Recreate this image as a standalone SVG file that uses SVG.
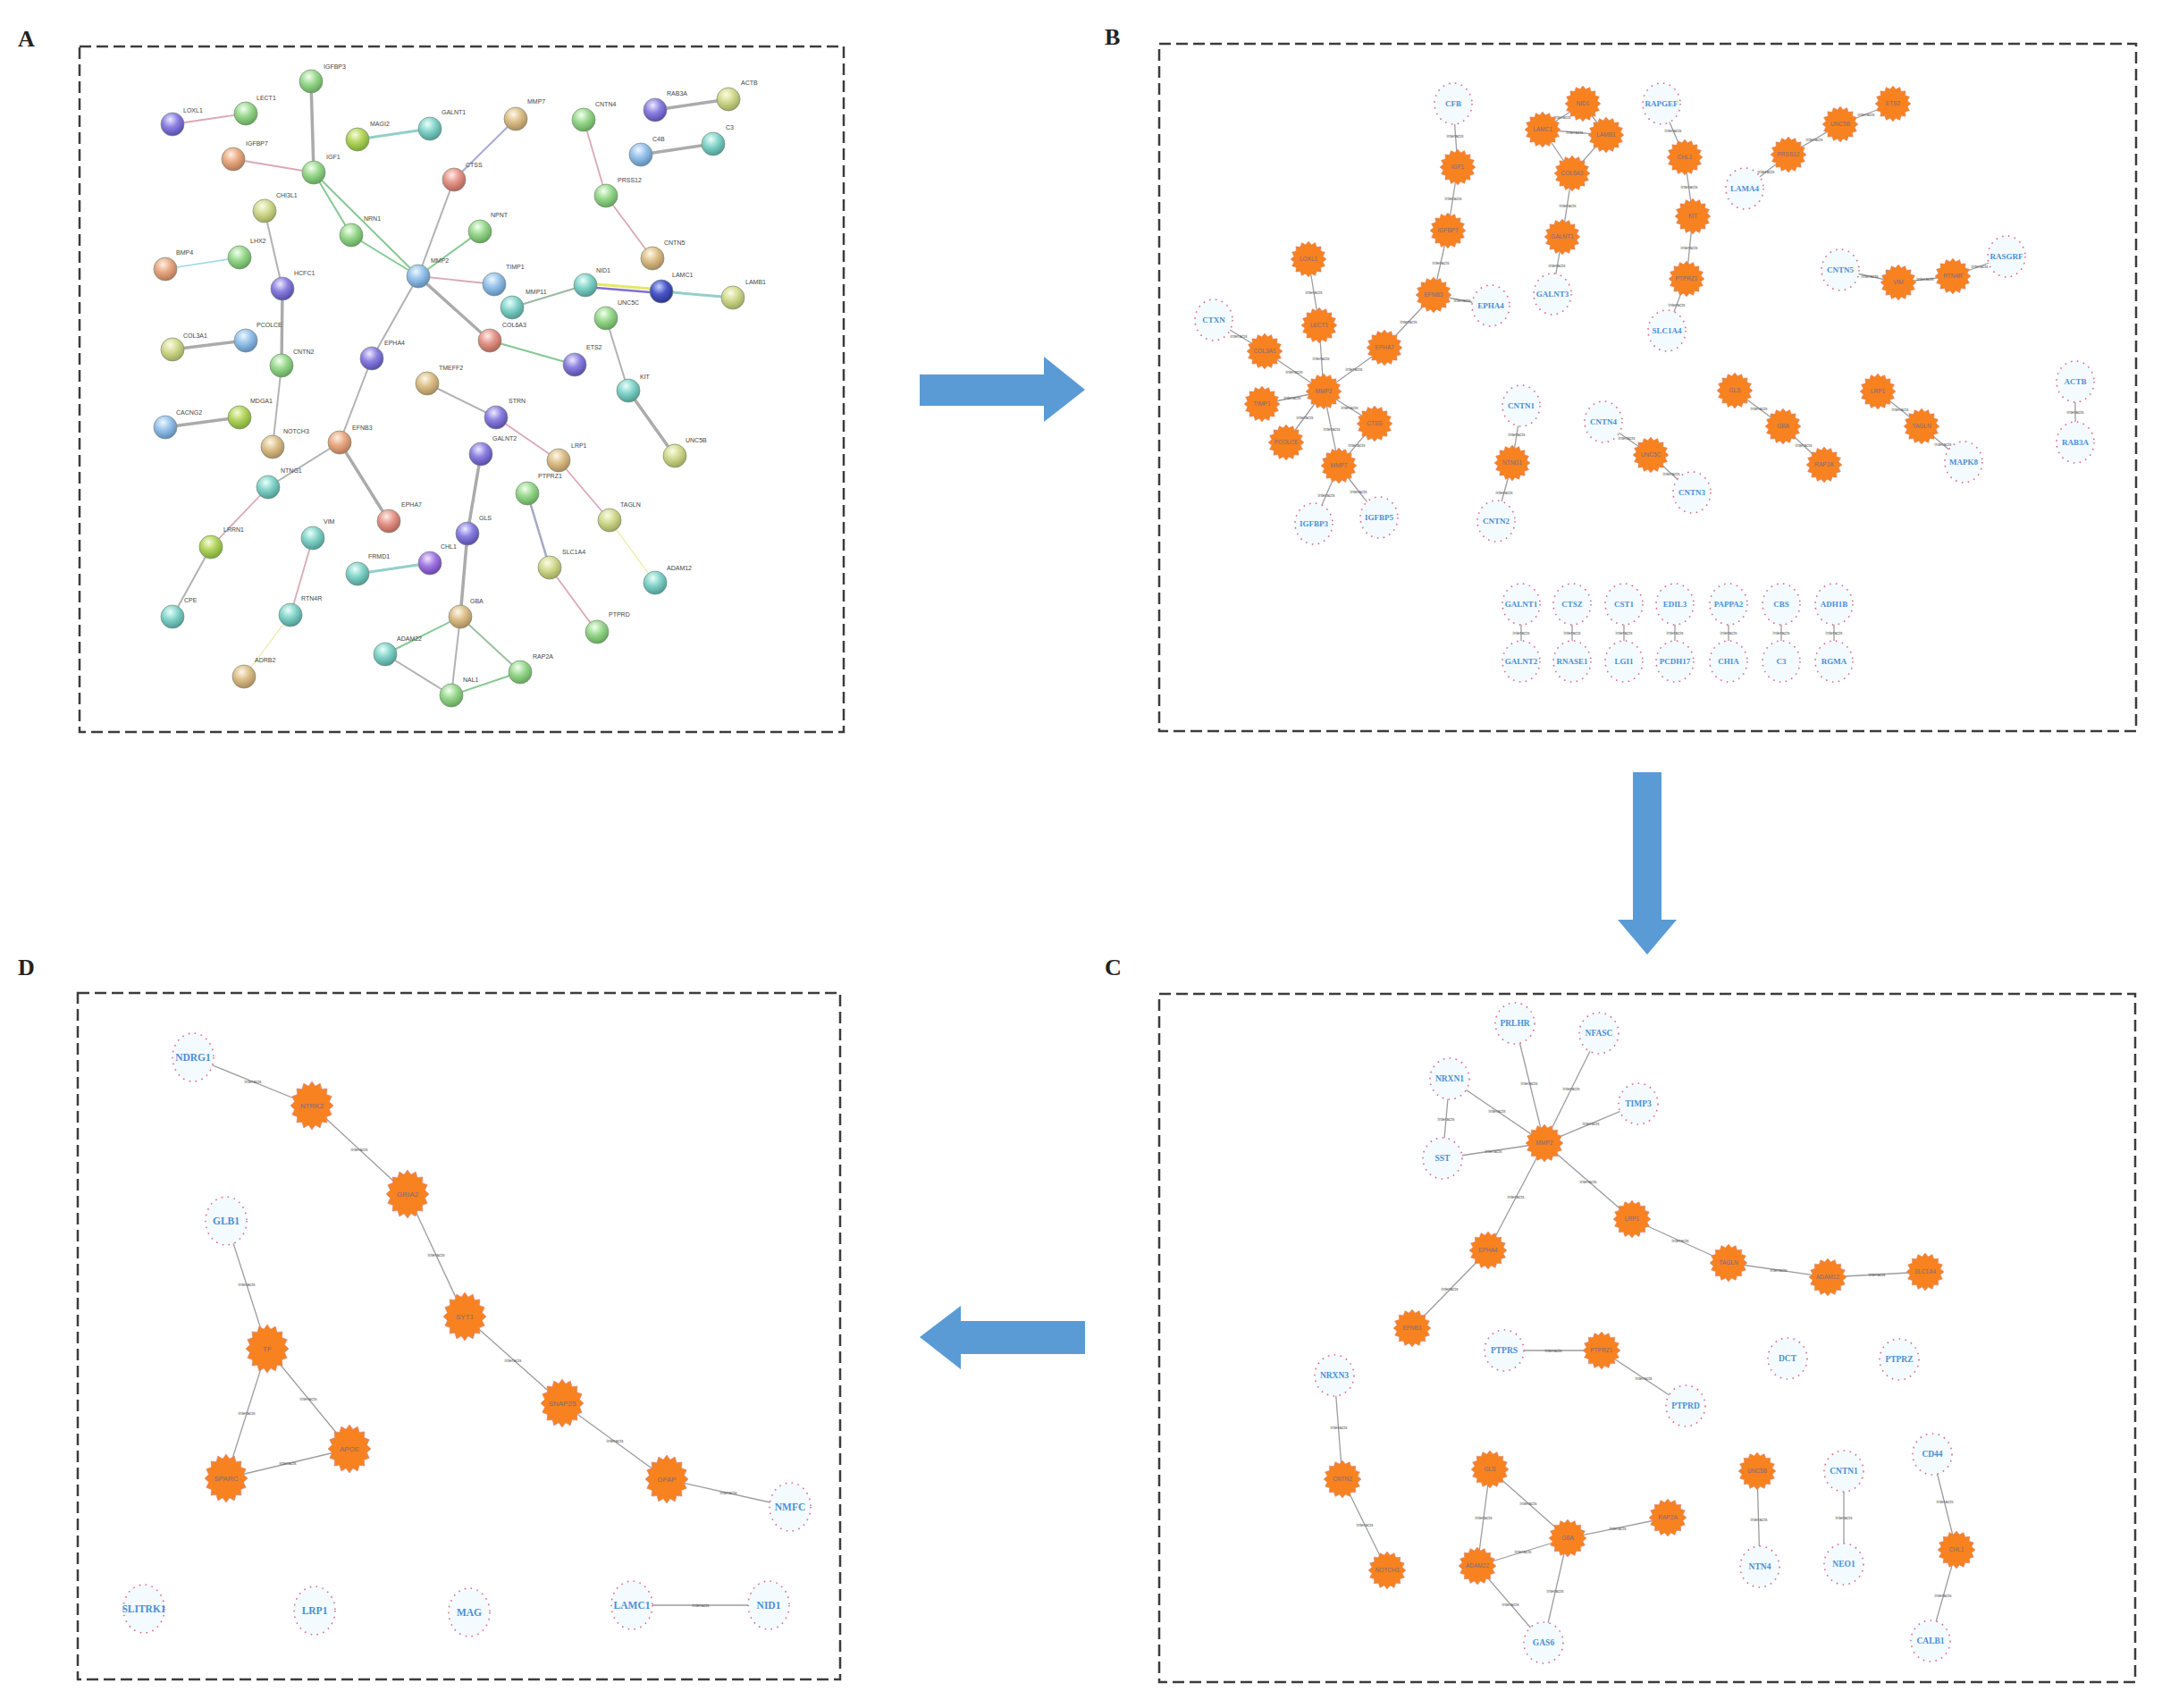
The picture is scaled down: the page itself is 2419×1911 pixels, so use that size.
<svg xmlns="http://www.w3.org/2000/svg" xmlns:xlink="http://www.w3.org/1999/xlink" width="2419" height="1911" viewBox="0 0 2419 1911">
<style>
.frame{fill:none;stroke:#3c3c3c;stroke-width:2.5;stroke-dasharray:13 6}
.pl{font-family:"Liberation Serif",serif;font-weight:bold;font-size:26px;fill:#222}
.sl{font-family:"Liberation Sans",Arial,sans-serif;font-size:7px;fill:#444}
.sn{stroke:#7a8a7a;stroke-width:0.7}
.g3{stroke:#ababab;stroke-width:3.5;stroke-linecap:round}
.g2{stroke:#b2b2b2;stroke-width:2;stroke-linecap:round}
.pk{stroke:#d9a9b6;stroke-width:1.8}
.gr{stroke:#86c892;stroke-width:2}
.tl{stroke:#92d0c8;stroke-width:3}
.yl{stroke:#e6ea9c;stroke-width:1.2}
.cy{stroke:#a2d8ea;stroke-width:1.6}
.e{stroke:#9c9c9c;stroke-width:1.3;fill:none}
.el{font-family:"Liberation Sans",Arial,sans-serif;font-size:5px;fill:#555;text-anchor:middle}
.dn{fill:#f3fbff;stroke:#e06a88;stroke-width:1.6;stroke-dasharray:1.6 5.4}
.dt{font-family:"Liberation Serif",serif;font-weight:bold;font-size:9px;fill:#4b8fd4;text-anchor:middle}
.dtc{font-family:"Liberation Serif",serif;font-weight:bold;font-size:9.5px;fill:#4b8fd4;text-anchor:middle}
.dtd{font-family:"Liberation Serif",serif;font-weight:bold;font-size:11.5px;fill:#4b8fd4;text-anchor:middle}
.on{fill:#f7821f;stroke:#d08a98;stroke-width:0.5}
.ot{font-family:"Liberation Sans",Arial,sans-serif;font-size:6.5px;fill:#7a6b85;text-anchor:middle}
.otd{font-family:"Liberation Sans",Arial,sans-serif;font-size:8px;fill:#7a6b85;text-anchor:middle}
.arr{fill:#5b9bd5}
</style>
<defs>
<path id="st" d="M20,0 L16.18,3.22 L18.48,7.65 L13.72,9.17 L14.14,14.14 L9.17,13.72 L7.65,18.48 L3.22,16.18 L0,20 L-3.22,16.18 L-7.65,18.48 L-9.17,13.72 L-14.14,14.14 L-13.72,9.17 L-18.48,7.65 L-16.18,3.22 L-20,0 L-16.18,-3.22 L-18.48,-7.65 L-13.72,-9.17 L-14.14,-14.14 L-9.17,-13.72 L-7.65,-18.48 L-3.22,-16.18 L0,-20 L3.22,-16.18 L7.65,-18.48 L9.17,-13.72 L14.14,-14.14 L13.72,-9.17 L18.48,-7.65 L16.18,-3.22 Z"/>
<radialGradient id="gG" cx="0.4" cy="0.3" r="0.75"><stop offset="0" stop-color="#f4fff0"/><stop offset="0.45" stop-color="#9ad98f"/><stop offset="1" stop-color="#5a9e52"/></radialGradient>
<radialGradient id="gP" cx="0.4" cy="0.3" r="0.75"><stop offset="0" stop-color="#eeeaff"/><stop offset="0.45" stop-color="#8c80e0"/><stop offset="1" stop-color="#4f45a4"/></radialGradient>
<radialGradient id="gO" cx="0.4" cy="0.3" r="0.75"><stop offset="0" stop-color="#fff0e4"/><stop offset="0.45" stop-color="#e8aa84"/><stop offset="1" stop-color="#b0704e"/></radialGradient>
<radialGradient id="gY" cx="0.4" cy="0.3" r="0.75"><stop offset="0" stop-color="#fbfce6"/><stop offset="0.45" stop-color="#d2da90"/><stop offset="1" stop-color="#98a054"/></radialGradient>
<radialGradient id="gT" cx="0.4" cy="0.3" r="0.75"><stop offset="0" stop-color="#eafffb"/><stop offset="0.45" stop-color="#84d4ca"/><stop offset="1" stop-color="#45948e"/></radialGradient>
<radialGradient id="gB" cx="0.4" cy="0.3" r="0.75"><stop offset="0" stop-color="#eef7ff"/><stop offset="0.45" stop-color="#96c2ea"/><stop offset="1" stop-color="#5684b2"/></radialGradient>
<radialGradient id="gD" cx="0.4" cy="0.3" r="0.75"><stop offset="0" stop-color="#c8ceff"/><stop offset="0.45" stop-color="#4a58c8"/><stop offset="1" stop-color="#262e84"/></radialGradient>
<radialGradient id="gK" cx="0.4" cy="0.3" r="0.75"><stop offset="0" stop-color="#fff8ea"/><stop offset="0.45" stop-color="#dcc08a"/><stop offset="1" stop-color="#a48454"/></radialGradient>
<radialGradient id="gV" cx="0.4" cy="0.3" r="0.75"><stop offset="0" stop-color="#f2e6ff"/><stop offset="0.45" stop-color="#a27ae4"/><stop offset="1" stop-color="#6438a4"/></radialGradient>
<radialGradient id="gR" cx="0.4" cy="0.3" r="0.75"><stop offset="0" stop-color="#ffece8"/><stop offset="0.45" stop-color="#e4968a"/><stop offset="1" stop-color="#aa5c50"/></radialGradient>
<radialGradient id="gL" cx="0.4" cy="0.3" r="0.75"><stop offset="0" stop-color="#f6fcdc"/><stop offset="0.45" stop-color="#b4d45e"/><stop offset="1" stop-color="#74a030"/></radialGradient>
</defs>
<rect width="2419" height="1911" fill="#ffffff"/>

<g id="panel-frames">
<rect class="frame" x="89" y="52" width="855" height="767"/>
<rect class="frame" x="1297" y="49" width="1093" height="769"/>
<rect class="frame" x="1297" y="1112" width="1092" height="770"/>
<rect class="frame" x="87" y="1111" width="853" height="768"/>
<text class="pl" x="20" y="52">A</text>
<text class="pl" x="1236" y="50">B</text>
<text class="pl" x="1236" y="1091">C</text>
<text class="pl" x="20" y="1091">D</text>
</g>

<g id="flow-arrows">
<polygon class="arr" points="1029,419 1168,419 1168,399 1214,436 1168,472 1168,454 1029,454"/>
<polygon class="arr" points="1827,864 1859,864 1859,1029 1876,1029 1843,1068 1810,1029 1827,1029"/>
<polygon class="arr" points="1214,1478 1075,1478 1075,1461 1029,1496 1075,1532 1075,1515 1214,1515"/>
</g>

<g id="connectors">
<!-- Panel A -->
<line class="pk" x1="193" y1="139" x2="275" y2="127" stroke-width="2.6"/>
<line class="g3" x1="348" y1="91" x2="351" y2="193"/>
<line class="pk" x1="261" y1="178" x2="351" y2="193"/>
<line class="tl" x1="400" y1="156" x2="481" y2="144"/>
<line class="gr" x1="351" y1="193" x2="468" y2="309" stroke-width="3"/>
<line class="gr" x1="351" y1="193" x2="393" y2="263"/>
<line class="gr" x1="393" y1="263" x2="468" y2="309"/>
<line class="g2" x1="468" y1="309" x2="508" y2="201" stroke-width="2.6"/>
<line x1="508" y1="201" x2="577" y2="133" stroke="#aaaad2" stroke-width="2"/>
<line class="gr" x1="468" y1="309" x2="537" y2="259" stroke-width="1.2"/>
<line class="pk" x1="468" y1="309" x2="553" y2="318"/>
<line class="g3" x1="468" y1="309" x2="548" y2="381"/>
<line class="g2" x1="468" y1="309" x2="416" y2="401" stroke-width="2.6"/>
<line class="cy" x1="185" y1="301" x2="268" y2="288"/>
<line class="g2" x1="296" y1="236" x2="316" y2="323" stroke-width="1.5"/>
<line class="g3" x1="316" y1="323" x2="315" y2="409"/>
<line class="g3" x1="193" y1="391" x2="275" y2="381"/>
<line class="g2" x1="315" y1="409" x2="305" y2="500"/>
<line class="g3" x1="185" y1="478" x2="268" y2="467" stroke-width="4.5"/>
<line class="g2" x1="416" y1="401" x2="380" y2="495"/>
<line class="g2" x1="380" y1="495" x2="300" y2="545" stroke-width="2.5"/>
<line class="g3" x1="380" y1="495" x2="435" y2="583"/>
<line class="pk" x1="300" y1="545" x2="236" y2="612"/>
<line class="g2" x1="236" y1="612" x2="193" y2="690"/>
<line class="pk" x1="350" y1="602" x2="325" y2="688" stroke-width="2.4"/>
<line class="yl" x1="325" y1="688" x2="273" y2="757"/>
<line class="tl" x1="400" y1="642" x2="481" y2="630" stroke-width="2.5"/>
<line class="g2" x1="478" y1="429" x2="555" y2="467"/>
<line class="pk" x1="555" y1="467" x2="625" y2="515" stroke="#c9a2a2"/>
<line class="pk" x1="625" y1="515" x2="682" y2="582"/>
<line class="yl" x1="682" y1="582" x2="733" y2="652"/>
<line x1="590" y1="552" x2="615" y2="635" stroke="#a4aac2" stroke-width="2.6"/>
<line class="pk" x1="615" y1="635" x2="668" y2="707"/>
<line class="g3" x1="538" y1="508" x2="523" y2="597"/>
<line class="g3" x1="523" y1="597" x2="515" y2="690"/>
<line x1="515" y1="690" x2="582" y2="752" stroke="#9cc0a4" stroke-width="2"/>
<line class="gr" x1="515" y1="690" x2="431" y2="732" stroke-width="1.5"/>
<line class="g2" x1="515" y1="690" x2="505" y2="778" stroke-width="1.6"/>
<line class="g2" x1="431" y1="732" x2="505" y2="778" stroke-width="1.6"/>
<line class="gr" x1="505" y1="778" x2="582" y2="752" stroke-width="1.5"/>
<line class="pk" x1="653" y1="134" x2="678" y2="219"/>
<line class="pk" x1="678" y1="219" x2="730" y2="289"/>
<line class="g3" x1="733" y1="123" x2="815" y2="111"/>
<line class="g3" x1="717" y1="173" x2="798" y2="161"/>
<line x1="573" y1="344" x2="655" y2="319" stroke="#9cb8a2" stroke-width="2"/>
<line x1="655" y1="317" x2="740" y2="324" stroke="#e6e66a" stroke-width="3"/>
<line x1="655" y1="321" x2="740" y2="328" stroke="#7f70d2" stroke-width="2.5"/>
<line class="tl" x1="740" y1="326" x2="820" y2="333"/>
<line class="gr" x1="548" y1="381" x2="643" y2="408" stroke-width="1.2"/>
<line class="g2" x1="678" y1="356" x2="703" y2="437"/>
<line class="g3" x1="703" y1="437" x2="755" y2="510"/>

<!-- Panel B -->
<path class="e" d="M1626,116L1631,187M1631,187L1620,258M1620,258L1604,330M1604,330L1668,342M1604,330L1549,389M1549,389L1481,438M1464,290L1476,364M1476,364L1481,438M1415,393L1481,438M1358,358L1415,393M1412,452L1481,438M1439,495L1481,438M1538,474L1481,438M1498,521L1481,438M1538,474L1498,521M1498,521L1470,586M1498,521L1543,579"/>
<path class="e" d="M1771,116L1726,145M1771,116L1797,151M1726,145L1797,151M1726,145L1759,194M1797,151L1759,194M1759,194L1748,265M1748,265L1737,329"/>
<path class="e" d="M1702,454L1692,518M1692,518L1674,583M1794,472L1847,509M1847,509L1893,551M1859,116L1885,176M1885,176L1894,242M1894,242L1887,312M1887,312L1865,370M1952,211L2001,173M2001,173L2059,139M2059,139L2118,116M2059,302L2124,316M2124,316L2185,309M2185,309L2245,287M1941,437L1995,477M1995,477L2041,520M2101,438L2150,477M2150,477L2197,517M2322,427L2322,495"/>
<path class="e" d="M1702,676L1702,740M1759,676L1759,740M1817,676L1817,740M1874,676L1874,740M1934,676L1934,740M1993,676L1993,740M2052,676L2052,740"/>
<!-- Panel C -->
<path class="e" d="M1728,1279L1695,1145M1728,1279L1789,1156M1728,1279L1622,1207M1728,1279L1833,1235M1728,1279L1614,1296M1622,1207L1614,1296M1728,1279L1826,1364M1728,1279L1665,1399M1665,1399L1580,1486M1826,1364L1934,1413M1934,1413L2045,1429M2045,1429L2154,1423M1683,1511L1792,1511M1792,1511L1886,1573M1493,1539L1502,1655M1502,1655L1552,1757M1667,1644L1653,1752M1667,1644L1754,1721M1653,1752L1754,1721M1754,1721L1866,1698M1653,1752L1727,1838M1754,1721L1727,1838M1966,1646L1969,1753M2063,1646L2063,1750M2162,1627L2189,1734M2189,1734L2160,1836"/>
<!-- Panel D -->
<path class="e" stroke-width="1.6" d="M216,1183L349,1237M349,1237L456,1336M456,1336L520,1473M520,1473L629,1570M629,1570L746,1655M746,1655L884,1686M253,1366L299,1509M299,1509L391,1621M299,1509L253,1654M391,1621L253,1654M707,1796L860,1796"/>

<g id="edge-labels">
<text class="el" x="1628" y="154">interacts</text><text class="el" x="1626" y="224">interacts</text><text class="el" x="1612" y="296">interacts</text><text class="el" x="1636" y="338">interacts</text><text class="el" x="1576" y="362">interacts</text><text class="el" x="1515" y="415">interacts</text><text class="el" x="1470" y="329">interacts</text><text class="el" x="1478" y="403">interacts</text><text class="el" x="1448" y="418">interacts</text><text class="el" x="1386" y="378">interacts</text><text class="el" x="1446" y="447">interacts</text><text class="el" x="1460" y="469">interacts</text><text class="el" x="1510" y="458">interacts</text><text class="el" x="1490" y="482">interacts</text><text class="el" x="1518" y="500">interacts</text><text class="el" x="1484" y="556">interacts</text><text class="el" x="1520" y="552">interacts</text>
<text class="el" x="1748" y="133">interacts</text><text class="el" x="1762" y="150">interacts</text><text class="el" x="1754" y="232">interacts</text><text class="el" x="1742" y="299">interacts</text>
<text class="el" x="1697" y="488">interacts</text><text class="el" x="1683" y="553">interacts</text><text class="el" x="1820" y="492">interacts</text><text class="el" x="1870" y="532">interacts</text><text class="el" x="1872" y="148">interacts</text><text class="el" x="1890" y="211">interacts</text><text class="el" x="1890" y="279">interacts</text><text class="el" x="1876" y="343">interacts</text><text class="el" x="1976" y="194">interacts</text><text class="el" x="2030" y="158">interacts</text><text class="el" x="2088" y="130">interacts</text><text class="el" x="2092" y="311">interacts</text><text class="el" x="2154" y="314">interacts</text><text class="el" x="2215" y="300">interacts</text><text class="el" x="1968" y="459">interacts</text><text class="el" x="2018" y="500">interacts</text><text class="el" x="2126" y="460">interacts</text><text class="el" x="2174" y="499">interacts</text><text class="el" x="2322" y="463">interacts</text>
<text class="el" x="1702" y="710">interacts</text><text class="el" x="1759" y="710">interacts</text><text class="el" x="1817" y="710">interacts</text><text class="el" x="1874" y="710">interacts</text><text class="el" x="1934" y="710">interacts</text><text class="el" x="1993" y="710">interacts</text><text class="el" x="2052" y="710">interacts</text>
<text class="el" x="1711" y="1214">interacts</text><text class="el" x="1758" y="1220">interacts</text><text class="el" x="1675" y="1245">interacts</text><text class="el" x="1780" y="1259">interacts</text><text class="el" x="1671" y="1290">interacts</text><text class="el" x="1618" y="1254">interacts</text><text class="el" x="1777" y="1324">interacts</text><text class="el" x="1696" y="1341">interacts</text><text class="el" x="1622" y="1444">interacts</text><text class="el" x="1880" y="1390">interacts</text><text class="el" x="1990" y="1423">interacts</text><text class="el" x="2100" y="1428">interacts</text><text class="el" x="1738" y="1513">interacts</text><text class="el" x="1839" y="1544">interacts</text><text class="el" x="1498" y="1599">interacts</text><text class="el" x="1527" y="1708">interacts</text><text class="el" x="1660" y="1700">interacts</text><text class="el" x="1710" y="1684">interacts</text><text class="el" x="1704" y="1738">interacts</text><text class="el" x="1810" y="1712">interacts</text><text class="el" x="1690" y="1797">interacts</text><text class="el" x="1740" y="1782">interacts</text><text class="el" x="1968" y="1702">interacts</text><text class="el" x="2063" y="1700">interacts</text><text class="el" x="2176" y="1682">interacts</text><text class="el" x="2174" y="1787">interacts</text>
<text class="el" x="283" y="1212">interacts</text><text class="el" x="402" y="1288">interacts</text><text class="el" x="488" y="1406">interacts</text><text class="el" x="574" y="1524">interacts</text><text class="el" x="688" y="1614">interacts</text><text class="el" x="815" y="1672">interacts</text><text class="el" x="276" y="1439">interacts</text><text class="el" x="345" y="1567">interacts</text><text class="el" x="276" y="1583">interacts</text><text class="el" x="322" y="1639">interacts</text><text class="el" x="784" y="1798">interacts</text>
</g>
</g>

<g id="panel-A-nodes">
<g id="a-LOXL1"><circle class="sn" cx="193" cy="139" r="13" fill="url(#gP)"/><text class="sl" x="205" y="126">LOXL1</text></g>
<g id="a-LECT1"><circle class="sn" cx="275" cy="127" r="13" fill="url(#gG)"/><text class="sl" x="287" y="112">LECT1</text></g>
<g id="a-IGFBP3"><circle class="sn" cx="348" cy="91" r="13" fill="url(#gG)"/><text class="sl" x="362" y="77">IGFBP3</text></g>
<g id="a-IGFBP7"><circle class="sn" cx="261" cy="178" r="13" fill="url(#gO)"/><text class="sl" x="275" y="163">IGFBP7</text></g>
<g id="a-IGF1"><circle class="sn" cx="351" cy="193" r="13" fill="url(#gG)"/><text class="sl" x="365" y="178">IGF1</text></g>
<g id="a-MAGI2"><circle class="sn" cx="400" cy="156" r="13" fill="url(#gL)"/><text class="sl" x="414" y="141">MAGI2</text></g>
<g id="a-GALNT1"><circle class="sn" cx="481" cy="144" r="13" fill="url(#gT)"/><text class="sl" x="494" y="128">GALNT1</text></g>
<g id="a-CTSS"><circle class="sn" cx="508" cy="201" r="13" fill="url(#gR)"/><text class="sl" x="521" y="187">CTSS</text></g>
<g id="a-NPNT"><circle class="sn" cx="537" cy="259" r="13" fill="url(#gG)"/><text class="sl" x="549" y="243">NPNT</text></g>
<g id="a-NRN1"><circle class="sn" cx="393" cy="263" r="13" fill="url(#gG)"/><text class="sl" x="407" y="247">NRN1</text></g>
<g id="a-MMP2"><circle class="sn" cx="468" cy="309" r="13" fill="url(#gB)"/><text class="sl" x="482" y="294">MMP2</text></g>
<g id="a-CHI3L1"><circle class="sn" cx="296" cy="236" r="13" fill="url(#gY)"/><text class="sl" x="309" y="221">CHI3L1</text></g>
<g id="a-LHX2"><circle class="sn" cx="268" cy="288" r="13" fill="url(#gG)"/><text class="sl" x="280" y="272">LHX2</text></g>
<g id="a-BMP4"><circle class="sn" cx="185" cy="301" r="13" fill="url(#gO)"/><text class="sl" x="197" y="285">BMP4</text></g>
<g id="a-HCFC1"><circle class="sn" cx="316" cy="323" r="13" fill="url(#gP)"/><text class="sl" x="329" y="308">HCFC1</text></g>
<g id="a-PCOLCE"><circle class="sn" cx="275" cy="381" r="13" fill="url(#gB)"/><text class="sl" x="287" y="366">PCOLCE</text></g>
<g id="a-COL3A1"><circle class="sn" cx="193" cy="391" r="13" fill="url(#gY)"/><text class="sl" x="205" y="378">COL3A1</text></g>
<g id="a-CNTN2"><circle class="sn" cx="315" cy="409" r="13" fill="url(#gG)"/><text class="sl" x="328" y="396">CNTN2</text></g>
<g id="a-EPHA4"><circle class="sn" cx="416" cy="401" r="13" fill="url(#gP)"/><text class="sl" x="430" y="386">EPHA4</text></g>
<g id="a-TMEFF2"><circle class="sn" cx="478" cy="429" r="13" fill="url(#gK)"/><text class="sl" x="491" y="414">TMEFF2</text></g>
<g id="a-MMP7"><circle class="sn" cx="577" cy="133" r="13" fill="url(#gK)"/><text class="sl" x="590" y="116">MMP7</text></g>
<g id="a-CNTN4"><circle class="sn" cx="653" cy="134" r="13" fill="url(#gG)"/><text class="sl" x="666" y="119">CNTN4</text></g>
<g id="a-PRSS12"><circle class="sn" cx="678" cy="219" r="13" fill="url(#gG)"/><text class="sl" x="691" y="204">PRSS12</text></g>
<g id="a-CNTN5"><circle class="sn" cx="730" cy="289" r="13" fill="url(#gK)"/><text class="sl" x="743" y="274">CNTN5</text></g>
<g id="a-RAB3A"><circle class="sn" cx="733" cy="123" r="13" fill="url(#gP)"/><text class="sl" x="746" y="107">RAB3A</text></g>
<g id="a-ACTB"><circle class="sn" cx="815" cy="111" r="13" fill="url(#gY)"/><text class="sl" x="829" y="95">ACTB</text></g>
<g id="a-C4B"><circle class="sn" cx="717" cy="173" r="13" fill="url(#gB)"/><text class="sl" x="730" y="158">C4B</text></g>
<g id="a-C3"><circle class="sn" cx="798" cy="161" r="13" fill="url(#gT)"/><text class="sl" x="812" y="145">C3</text></g>
<g id="a-TIMP1"><circle class="sn" cx="553" cy="318" r="13" fill="url(#gB)"/><text class="sl" x="566" y="301">TIMP1</text></g>
<g id="a-MMP11"><circle class="sn" cx="573" cy="344" r="13" fill="url(#gT)"/><text class="sl" x="588" y="329">MMP11</text></g>
<g id="a-COL6A3"><circle class="sn" cx="548" cy="381" r="13" fill="url(#gR)"/><text class="sl" x="562" y="366">COL6A3</text></g>
<g id="a-NID1"><circle class="sn" cx="655" cy="319" r="13" fill="url(#gT)"/><text class="sl" x="667" y="305">NID1</text></g>
<g id="a-LAMC1"><circle class="sn" cx="740" cy="326" r="13" fill="url(#gD)"/><text class="sl" x="752" y="310">LAMC1</text></g>
<g id="a-LAMB1"><circle class="sn" cx="820" cy="333" r="13" fill="url(#gY)"/><text class="sl" x="834" y="318">LAMB1</text></g>
<g id="a-UNC5C"><circle class="sn" cx="678" cy="356" r="13" fill="url(#gG)"/><text class="sl" x="691" y="341">UNC5C</text></g>
<g id="a-ETS2"><circle class="sn" cx="643" cy="408" r="13" fill="url(#gP)"/><text class="sl" x="656" y="391">ETS2</text></g>
<g id="a-KIT"><circle class="sn" cx="703" cy="437" r="13" fill="url(#gT)"/><text class="sl" x="716" y="424">KIT</text></g>
<g id="a-UNC5B"><circle class="sn" cx="755" cy="510" r="13" fill="url(#gY)"/><text class="sl" x="767" y="495">UNC5B</text></g>
<g id="a-CACNG2"><circle class="sn" cx="185" cy="478" r="13" fill="url(#gB)"/><text class="sl" x="197" y="464">CACNG2</text></g>
<g id="a-MDGA1"><circle class="sn" cx="268" cy="467" r="13" fill="url(#gL)"/><text class="sl" x="280" y="451">MDGA1</text></g>
<g id="a-NOTCH3"><circle class="sn" cx="305" cy="500" r="13" fill="url(#gK)"/><text class="sl" x="317" y="485">NOTCH3</text></g>
<g id="a-EFNB3"><circle class="sn" cx="380" cy="495" r="13" fill="url(#gO)"/><text class="sl" x="394" y="481">EFNB3</text></g>
<g id="a-NTNG1"><circle class="sn" cx="300" cy="545" r="13" fill="url(#gT)"/><text class="sl" x="314" y="529">NTNG1</text></g>
<g id="a-EPHA7"><circle class="sn" cx="435" cy="583" r="13" fill="url(#gR)"/><text class="sl" x="449" y="567">EPHA7</text></g>
<g id="a-LRRN1"><circle class="sn" cx="236" cy="612" r="13" fill="url(#gL)"/><text class="sl" x="250" y="595">LRRN1</text></g>
<g id="a-CPE"><circle class="sn" cx="193" cy="690" r="13" fill="url(#gT)"/><text class="sl" x="206" y="674">CPE</text></g>
<g id="a-VIM"><circle class="sn" cx="350" cy="602" r="13" fill="url(#gT)"/><text class="sl" x="362" y="586">VIM</text></g>
<g id="a-RTN4R"><circle class="sn" cx="325" cy="688" r="13" fill="url(#gT)"/><text class="sl" x="337" y="672">RTN4R</text></g>
<g id="a-ADRB2"><circle class="sn" cx="273" cy="757" r="13" fill="url(#gK)"/><text class="sl" x="285" y="741">ADRB2</text></g>
<g id="a-FRMD1"><circle class="sn" cx="400" cy="642" r="13" fill="url(#gT)"/><text class="sl" x="412" y="625">FRMD1</text></g>
<g id="a-CHL1"><circle class="sn" cx="481" cy="630" r="13" fill="url(#gV)"/><text class="sl" x="493" y="614">CHL1</text></g>
<g id="a-STRN"><circle class="sn" cx="555" cy="467" r="13" fill="url(#gP)"/><text class="sl" x="569" y="451">STRN</text></g>
<g id="a-GALNT2"><circle class="sn" cx="538" cy="508" r="13" fill="url(#gP)"/><text class="sl" x="551" y="493">GALNT2</text></g>
<g id="a-LRP1"><circle class="sn" cx="625" cy="515" r="13" fill="url(#gK)"/><text class="sl" x="639" y="501">LRP1</text></g>
<g id="a-PTPRZ1"><circle class="sn" cx="590" cy="552" r="13" fill="url(#gG)"/><text class="sl" x="602" y="535">PTPRZ1</text></g>
<g id="a-TAGLN"><circle class="sn" cx="682" cy="582" r="13" fill="url(#gY)"/><text class="sl" x="694" y="567">TAGLN</text></g>
<g id="a-ADAM12"><circle class="sn" cx="733" cy="652" r="13" fill="url(#gT)"/><text class="sl" x="746" y="638">ADAM12</text></g>
<g id="a-SLC1A4"><circle class="sn" cx="615" cy="635" r="13" fill="url(#gY)"/><text class="sl" x="629" y="620">SLC1A4</text></g>
<g id="a-PTPRD"><circle class="sn" cx="668" cy="707" r="13" fill="url(#gG)"/><text class="sl" x="681" y="690">PTPRD</text></g>
<g id="a-GLS"><circle class="sn" cx="523" cy="597" r="13" fill="url(#gP)"/><text class="sl" x="536" y="582">GLS</text></g>
<g id="a-GBA"><circle class="sn" cx="515" cy="690" r="13" fill="url(#gK)"/><text class="sl" x="526" y="675">GBA</text></g>
<g id="a-RAP2A"><circle class="sn" cx="582" cy="752" r="13" fill="url(#gG)"/><text class="sl" x="596" y="737">RAP2A</text></g>
<g id="a-NAL1"><circle class="sn" cx="505" cy="778" r="13" fill="url(#gG)"/><text class="sl" x="518" y="763">NAL1</text></g>
<g id="a-ADAM22"><circle class="sn" cx="431" cy="732" r="13" fill="url(#gT)"/><text class="sl" x="444" y="717">ADAM22</text></g>
</g>

<g id="panel-B-nodes">
<g id="b-CFB"><ellipse class="dn" cx="1626" cy="116" rx="21" ry="23"/><text class="dt" x="1626" y="119">CFB</text></g>
<g id="b-EPHA4"><ellipse class="dn" cx="1668" cy="342" rx="21" ry="23"/><text class="dt" x="1668" y="345">EPHA4</text></g>
<g id="b-CTXN"><ellipse class="dn" cx="1358" cy="358" rx="21" ry="23"/><text class="dt" x="1358" y="361">CTXN</text></g>
<g id="b-IGFBP3"><ellipse class="dn" cx="1470" cy="586" rx="21" ry="23"/><text class="dt" x="1470" y="589">IGFBP3</text></g>
<g id="b-IGFBP5"><ellipse class="dn" cx="1543" cy="579" rx="21" ry="23"/><text class="dt" x="1543" y="582">IGFBP5</text></g>
<g id="b-GALNT3"><ellipse class="dn" cx="1737" cy="329" rx="21" ry="23"/><text class="dt" x="1737" y="332">GALNT3</text></g>
<g id="b-CNTN1"><ellipse class="dn" cx="1702" cy="454" rx="21" ry="23"/><text class="dt" x="1702" y="457">CNTN1</text></g>
<g id="b-CNTN2"><ellipse class="dn" cx="1674" cy="583" rx="21" ry="23"/><text class="dt" x="1674" y="586">CNTN2</text></g>
<g id="b-CNTN4"><ellipse class="dn" cx="1794" cy="472" rx="21" ry="23"/><text class="dt" x="1794" y="475">CNTN4</text></g>
<g id="b-CNTN3"><ellipse class="dn" cx="1893" cy="551" rx="21" ry="23"/><text class="dt" x="1893" y="554">CNTN3</text></g>
<g id="b-RAPGEF"><ellipse class="dn" cx="1859" cy="116" rx="21" ry="23"/><text class="dt" x="1859" y="119">RAPGEF</text></g>
<g id="b-SLC1A4"><ellipse class="dn" cx="1865" cy="370" rx="21" ry="23"/><text class="dt" x="1865" y="373">SLC1A4</text></g>
<g id="b-LAMA4"><ellipse class="dn" cx="1952" cy="211" rx="21" ry="23"/><text class="dt" x="1952" y="214">LAMA4</text></g>
<g id="b-CNTN5"><ellipse class="dn" cx="2059" cy="302" rx="21" ry="23"/><text class="dt" x="2059" y="305">CNTN5</text></g>
<g id="b-RASGRF"><ellipse class="dn" cx="2245" cy="287" rx="21" ry="23"/><text class="dt" x="2245" y="290">RASGRF</text></g>
<g id="b-MAPK8"><ellipse class="dn" cx="2197" cy="517" rx="21" ry="23"/><text class="dt" x="2197" y="520">MAPK8</text></g>
<g id="b-ACTB"><ellipse class="dn" cx="2322" cy="427" rx="21" ry="23"/><text class="dt" x="2322" y="430">ACTB</text></g>
<g id="b-RAB3A"><ellipse class="dn" cx="2322" cy="495" rx="21" ry="23"/><text class="dt" x="2322" y="498">RAB3A</text></g>
<g id="b-GALNT1"><ellipse class="dn" cx="1702" cy="676" rx="21" ry="23"/><text class="dt" x="1702" y="679">GALNT1</text></g>
<g id="b-CTSZ"><ellipse class="dn" cx="1759" cy="676" rx="21" ry="23"/><text class="dt" x="1759" y="679">CTSZ</text></g>
<g id="b-CST1"><ellipse class="dn" cx="1817" cy="676" rx="21" ry="23"/><text class="dt" x="1817" y="679">CST1</text></g>
<g id="b-EDIL3"><ellipse class="dn" cx="1874" cy="676" rx="21" ry="23"/><text class="dt" x="1874" y="679">EDIL3</text></g>
<g id="b-PAPPA2"><ellipse class="dn" cx="1934" cy="676" rx="21" ry="23"/><text class="dt" x="1934" y="679">PAPPA2</text></g>
<g id="b-CBS"><ellipse class="dn" cx="1993" cy="676" rx="21" ry="23"/><text class="dt" x="1993" y="679">CBS</text></g>
<g id="b-ADH1B"><ellipse class="dn" cx="2052" cy="676" rx="21" ry="23"/><text class="dt" x="2052" y="679">ADH1B</text></g>
<g id="b-GALNT2"><ellipse class="dn" cx="1702" cy="740" rx="21" ry="23"/><text class="dt" x="1702" y="743">GALNT2</text></g>
<g id="b-RNASE1"><ellipse class="dn" cx="1759" cy="740" rx="21" ry="23"/><text class="dt" x="1759" y="743">RNASE1</text></g>
<g id="b-LGI1"><ellipse class="dn" cx="1817" cy="740" rx="21" ry="23"/><text class="dt" x="1817" y="743">LGI1</text></g>
<g id="b-PCDH17"><ellipse class="dn" cx="1874" cy="740" rx="21" ry="23"/><text class="dt" x="1874" y="743">PCDH17</text></g>
<g id="b-CHIA"><ellipse class="dn" cx="1934" cy="740" rx="21" ry="23"/><text class="dt" x="1934" y="743">CHIA</text></g>
<g id="b-C3"><ellipse class="dn" cx="1993" cy="740" rx="21" ry="23"/><text class="dt" x="1993" y="743">C3</text></g>
<g id="b-RGMA"><ellipse class="dn" cx="2052" cy="740" rx="21" ry="23"/><text class="dt" x="2052" y="743">RGMA</text></g>
<g id="b-o1"><use href="#st" class="on" transform="translate(1631,187)"/><text class="ot" x="1631" y="189">IGF1</text></g>
<g id="b-o2"><use href="#st" class="on" transform="translate(1620,258)"/><text class="ot" x="1620" y="260">IGFBP7</text></g>
<g id="b-o3"><use href="#st" class="on" transform="translate(1604,330)"/><text class="ot" x="1604" y="332">EFNB3</text></g>
<g id="b-o4"><use href="#st" class="on" transform="translate(1549,389)"/><text class="ot" x="1549" y="391">EPHA7</text></g>
<g id="b-o5"><use href="#st" class="on" transform="translate(1464,290)"/><text class="ot" x="1464" y="292">LOXL1</text></g>
<g id="b-o6"><use href="#st" class="on" transform="translate(1476,364)"/><text class="ot" x="1476" y="366">LECT1</text></g>
<g id="b-o7"><use href="#st" class="on" transform="translate(1415,393)"/><text class="ot" x="1415" y="395">COL3A1</text></g>
<g id="b-hub"><use href="#st" class="on" transform="translate(1481,438)"/><text class="ot" x="1481" y="440">MMP2</text></g>
<g id="b-o8"><use href="#st" class="on" transform="translate(1412,452)"/><text class="ot" x="1412" y="454">TIMP1</text></g>
<g id="b-o9"><use href="#st" class="on" transform="translate(1439,495)"/><text class="ot" x="1439" y="497">PCOLCE</text></g>
<g id="b-o10"><use href="#st" class="on" transform="translate(1538,474)"/><text class="ot" x="1538" y="476">CTSS</text></g>
<g id="b-o11"><use href="#st" class="on" transform="translate(1498,521)"/><text class="ot" x="1498" y="523">MMP7</text></g>
<g id="b-c1"><use href="#st" class="on" transform="translate(1771,116)"/><text class="ot" x="1771" y="118">NID1</text></g>
<g id="b-c2"><use href="#st" class="on" transform="translate(1726,145)"/><text class="ot" x="1726" y="147">LAMC1</text></g>
<g id="b-c3"><use href="#st" class="on" transform="translate(1797,151)"/><text class="ot" x="1797" y="153">LAMB1</text></g>
<g id="b-c4"><use href="#st" class="on" transform="translate(1759,194)"/><text class="ot" x="1759" y="196">COL6A3</text></g>
<g id="b-c5"><use href="#st" class="on" transform="translate(1748,265)"/><text class="ot" x="1748" y="267">GALNT1</text></g>
<g id="b-o12"><use href="#st" class="on" transform="translate(1692,518)"/><text class="ot" x="1692" y="520">NTNG1</text></g>
<g id="b-o13"><use href="#st" class="on" transform="translate(1847,509)"/><text class="ot" x="1847" y="511">UNC5C</text></g>
<g id="b-o14"><use href="#st" class="on" transform="translate(1885,176)"/><text class="ot" x="1885" y="178">CHL1</text></g>
<g id="b-o15"><use href="#st" class="on" transform="translate(1894,242)"/><text class="ot" x="1894" y="244">KIT</text></g>
<g id="b-o16"><use href="#st" class="on" transform="translate(1887,312)"/><text class="ot" x="1887" y="314">PTPRZ1</text></g>
<g id="b-o17"><use href="#st" class="on" transform="translate(2001,173)"/><text class="ot" x="2001" y="175">PRSS12</text></g>
<g id="b-o18"><use href="#st" class="on" transform="translate(2059,139)"/><text class="ot" x="2059" y="141">UNC5B</text></g>
<g id="b-o19"><use href="#st" class="on" transform="translate(2118,116)"/><text class="ot" x="2118" y="118">ETS2</text></g>
<g id="b-o20"><use href="#st" class="on" transform="translate(2124,316)"/><text class="ot" x="2124" y="318">VIM</text></g>
<g id="b-o21"><use href="#st" class="on" transform="translate(2185,309)"/><text class="ot" x="2185" y="311">RTN4R</text></g>
<g id="b-o22"><use href="#st" class="on" transform="translate(1941,437)"/><text class="ot" x="1941" y="439">GLS</text></g>
<g id="b-o23"><use href="#st" class="on" transform="translate(1995,477)"/><text class="ot" x="1995" y="479">GBA</text></g>
<g id="b-o24"><use href="#st" class="on" transform="translate(2041,520)"/><text class="ot" x="2041" y="522">RAP2A</text></g>
<g id="b-o25"><use href="#st" class="on" transform="translate(2101,438)"/><text class="ot" x="2101" y="440">LRP1</text></g>
<g id="b-o26"><use href="#st" class="on" transform="translate(2150,477)"/><text class="ot" x="2150" y="479">TAGLN</text></g>
</g>

<g id="panel-C-nodes">
<g id="c-PRLHR"><ellipse class="dn" cx="1695" cy="1145" rx="22" ry="23"/><text class="dtc" x="1695" y="1148">PRLHR</text></g>
<g id="c-NFASC"><ellipse class="dn" cx="1789" cy="1156" rx="22" ry="23"/><text class="dtc" x="1789" y="1159">NFASC</text></g>
<g id="c-NRXN1"><ellipse class="dn" cx="1622" cy="1207" rx="22" ry="23"/><text class="dtc" x="1622" y="1210">NRXN1</text></g>
<g id="c-TIMP3"><ellipse class="dn" cx="1833" cy="1235" rx="22" ry="23"/><text class="dtc" x="1833" y="1238">TIMP3</text></g>
<g id="c-SST"><ellipse class="dn" cx="1614" cy="1296" rx="22" ry="23"/><text class="dtc" x="1614" y="1299">SST</text></g>
<g id="c-PTPRS"><ellipse class="dn" cx="1683" cy="1511" rx="22" ry="23"/><text class="dtc" x="1683" y="1514">PTPRS</text></g>
<g id="c-PTPRD"><ellipse class="dn" cx="1886" cy="1573" rx="22" ry="23"/><text class="dtc" x="1886" y="1576">PTPRD</text></g>
<g id="c-DCT"><ellipse class="dn" cx="2000" cy="1520" rx="22" ry="23"/><text class="dtc" x="2000" y="1523">DCT</text></g>
<g id="c-PTPRZ"><ellipse class="dn" cx="2125" cy="1521" rx="22" ry="23"/><text class="dtc" x="2125" y="1524">PTPRZ</text></g>
<g id="c-NRXN3"><ellipse class="dn" cx="1493" cy="1539" rx="22" ry="23"/><text class="dtc" x="1493" y="1542">NRXN3</text></g>
<g id="c-GAS6"><ellipse class="dn" cx="1727" cy="1838" rx="22" ry="23"/><text class="dtc" x="1727" y="1841">GAS6</text></g>
<g id="c-NTN4"><ellipse class="dn" cx="1969" cy="1753" rx="22" ry="23"/><text class="dtc" x="1969" y="1756">NTN4</text></g>
<g id="c-CNTN1"><ellipse class="dn" cx="2063" cy="1646" rx="22" ry="23"/><text class="dtc" x="2063" y="1649">CNTN1</text></g>
<g id="c-NEO1"><ellipse class="dn" cx="2063" cy="1750" rx="22" ry="23"/><text class="dtc" x="2063" y="1753">NEO1</text></g>
<g id="c-CD44"><ellipse class="dn" cx="2162" cy="1627" rx="22" ry="23"/><text class="dtc" x="2162" y="1630">CD44</text></g>
<g id="c-CALB1"><ellipse class="dn" cx="2160" cy="1836" rx="22" ry="23"/><text class="dtc" x="2160" y="1839">CALB1</text></g>
<g id="c-hub"><use href="#st" class="on" transform="translate(1728,1279) scale(1.05)"/><text class="ot" x="1728" y="1281">MMP2</text></g>
<g id="c-p1"><use href="#st" class="on" transform="translate(1826,1364) scale(1.05)"/><text class="ot" x="1826" y="1366">LRP1</text></g>
<g id="c-p2"><use href="#st" class="on" transform="translate(1934,1413) scale(1.05)"/><text class="ot" x="1934" y="1415">TAGLN</text></g>
<g id="c-p3"><use href="#st" class="on" transform="translate(2045,1429) scale(1.05)"/><text class="ot" x="2045" y="1431">ADAM12</text></g>
<g id="c-p4"><use href="#st" class="on" transform="translate(2154,1423) scale(1.05)"/><text class="ot" x="2154" y="1425">SLC1A4</text></g>
<g id="c-q1"><use href="#st" class="on" transform="translate(1665,1399) scale(1.05)"/><text class="ot" x="1665" y="1401">EPHA4</text></g>
<g id="c-q2"><use href="#st" class="on" transform="translate(1580,1486) scale(1.05)"/><text class="ot" x="1580" y="1488">EFNB3</text></g>
<g id="c-r2"><use href="#st" class="on" transform="translate(1792,1511) scale(1.05)"/><text class="ot" x="1792" y="1513">PTPRZ1</text></g>
<g id="c-s2"><use href="#st" class="on" transform="translate(1502,1655) scale(1.05)"/><text class="ot" x="1502" y="1657">CNTN2</text></g>
<g id="c-s3"><use href="#st" class="on" transform="translate(1552,1757) scale(1.05)"/><text class="ot" x="1552" y="1759">NOTCH3</text></g>
<g id="c-t1"><use href="#st" class="on" transform="translate(1667,1644) scale(1.05)"/><text class="ot" x="1667" y="1646">GLS</text></g>
<g id="c-t2"><use href="#st" class="on" transform="translate(1653,1752) scale(1.05)"/><text class="ot" x="1653" y="1754">ADAM22</text></g>
<g id="c-t3"><use href="#st" class="on" transform="translate(1754,1721) scale(1.05)"/><text class="ot" x="1754" y="1723">GBA</text></g>
<g id="c-t4"><use href="#st" class="on" transform="translate(1866,1698) scale(1.05)"/><text class="ot" x="1866" y="1700">RAP2A</text></g>
<g id="c-u1"><use href="#st" class="on" transform="translate(1966,1646) scale(1.05)"/><text class="ot" x="1966" y="1648">UNC5B</text></g>
<g id="c-w2"><use href="#st" class="on" transform="translate(2189,1734) scale(1.05)"/><text class="ot" x="2189" y="1736">CHL1</text></g>
</g>

<g id="panel-D-nodes">
<g id="d-NDRG1"><ellipse class="dn" cx="216" cy="1183" rx="23" ry="27"/><text class="dtd" x="216" y="1187">NDRG1</text></g>
<g id="d-GLB1"><ellipse class="dn" cx="253" cy="1366" rx="23" ry="27"/><text class="dtd" x="253" y="1370">GLB1</text></g>
<g id="d-NMFC"><ellipse class="dn" cx="884" cy="1686" rx="23" ry="27"/><text class="dtd" x="884" y="1690">NMFC</text></g>
<g id="d-SLITRK1"><ellipse class="dn" cx="161" cy="1800" rx="23" ry="27"/><text class="dtd" x="161" y="1804">SLITRK1</text></g>
<g id="d-LRP1"><ellipse class="dn" cx="352" cy="1802" rx="23" ry="27"/><text class="dtd" x="352" y="1806">LRP1</text></g>
<g id="d-MAG"><ellipse class="dn" cx="525" cy="1804" rx="23" ry="27"/><text class="dtd" x="525" y="1808">MAG</text></g>
<g id="d-LAMC1"><ellipse class="dn" cx="707" cy="1796" rx="23" ry="27"/><text class="dtd" x="707" y="1800">LAMC1</text></g>
<g id="d-NID1"><ellipse class="dn" cx="860" cy="1796" rx="23" ry="27"/><text class="dtd" x="860" y="1800">NID1</text></g>
<g id="d-o1"><use href="#st" class="on" transform="translate(349,1237) scale(1.2,1.35)"/><text class="otd" x="349" y="1240">NTRK2</text></g>
<g id="d-o2"><use href="#st" class="on" transform="translate(456,1336) scale(1.2,1.35)"/><text class="otd" x="456" y="1339">GRIA2</text></g>
<g id="d-o3"><use href="#st" class="on" transform="translate(520,1473) scale(1.2,1.35)"/><text class="otd" x="520" y="1476">SYT1</text></g>
<g id="d-o4"><use href="#st" class="on" transform="translate(629,1570) scale(1.2,1.35)"/><text class="otd" x="629" y="1573">SNAP25</text></g>
<g id="d-o5"><use href="#st" class="on" transform="translate(746,1655) scale(1.2,1.35)"/><text class="otd" x="746" y="1658">GFAP</text></g>
<g id="d-oa"><use href="#st" class="on" transform="translate(299,1509) scale(1.2,1.35)"/><text class="otd" x="299" y="1512">TF</text></g>
<g id="d-ob"><use href="#st" class="on" transform="translate(391,1621) scale(1.2,1.35)"/><text class="otd" x="391" y="1624">APOE</text></g>
<g id="d-oc"><use href="#st" class="on" transform="translate(253,1654) scale(1.2,1.35)"/><text class="otd" x="253" y="1657">SPARC</text></g>
</g>
</svg>
